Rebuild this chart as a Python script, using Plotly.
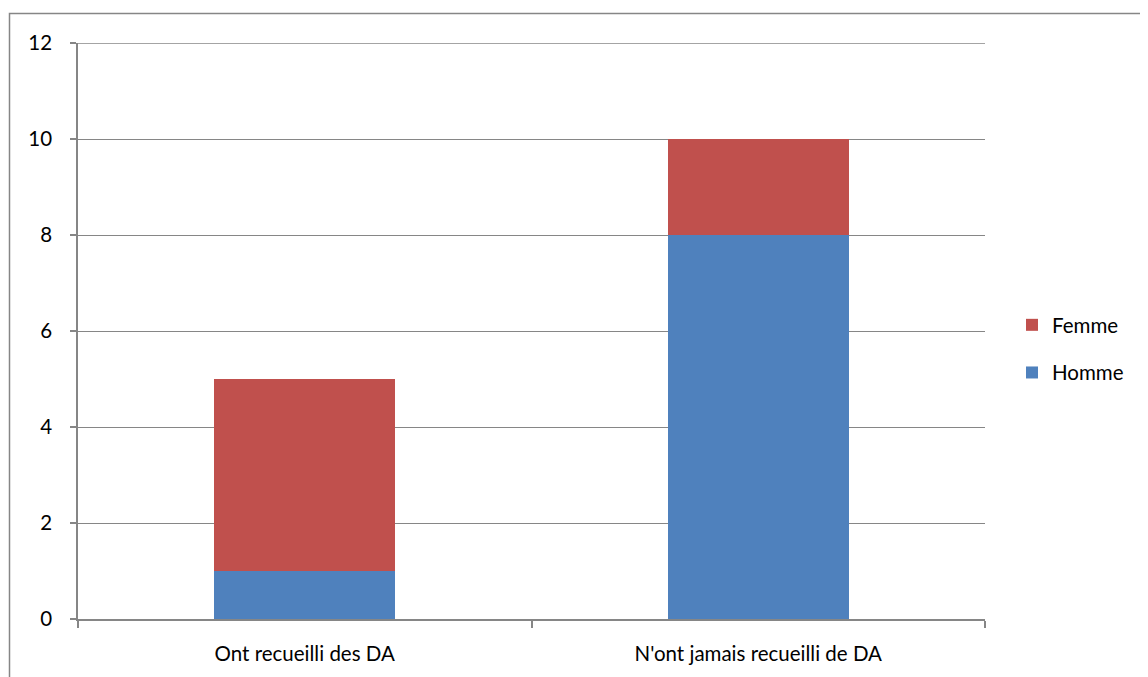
import plotly.graph_objects as go

categories = ["Ont recueilli des DA", "N'ont jamais recueilli de DA"]
homme = [1, 8]
femme = [4, 2]
y_ticks = [0, 2, 4, 6, 8, 10, 12]

# The page body has an 8px margin; work in window pixels and offset.
OFF = 8
W, H = 1148 - OFF, 677 - OFF
plot_left, plot_right, plot_top, plot_bottom = 78, 985, 43, 619
L = plot_left - OFF
T = plot_top - OFF
R = W - (plot_right - OFF)
B = H - (plot_bottom - OFF)
pw, ph = W - L - R, H - T - B

def px_x(px):
    return (px - plot_left) / pw

def px_y(py):
    return (plot_bottom - py) / ph

fig = go.Figure()
fig.add_trace(go.Bar(x=categories, y=homme, name="Homme", marker_color="#4F81BD",
                     marker_line_width=0, legendgroup="h", legendrank=2))
fig.add_trace(go.Bar(x=categories, y=femme, name="Femme", marker_color="#C0504D",
                     marker_line_width=0, legendgroup="f", legendrank=1))

fam = "Lato, Calibri, sans-serif"
font = dict(family=fam, size=20.5, color="#000000")

fig.update_layout(
    width=W, height=H,
    margin=dict(l=L, r=R, t=T, b=B),
    barmode="stack",
    bargap=0.6,
    paper_bgcolor="white",
    plot_bgcolor="white",
    font=font,
    showlegend=True,
    legend=dict(traceorder="grouped", x=px_x(1012), y=px_y(305),
                xanchor="left", yanchor="top", tracegroupgap=18,
                font=dict(family=fam, size=20.5, color="#000000")),
    xaxis=dict(
        showgrid=False, showline=True, linecolor="#868686", linewidth=1.5,
        ticks="outside", tickson="boundaries", ticklen=7, tickcolor="#868686", tickwidth=1.5,
        ticklabelstandoff=16,
    ),
    yaxis=dict(
        range=[0, 12], tickvals=y_ticks, showgrid=True, gridcolor="#868686", gridwidth=1.3,
        showline=True, linecolor="#868686", linewidth=1.5, zeroline=False,
        ticks="outside", ticklen=6, tickcolor="#868686", tickwidth=1.5,
        ticklabelstandoff=14,
    ),
    shapes=[
        dict(type="rect", xref="paper", yref="paper",
             x0=px_x(9.5), x1=px_x(1146.5), y0=px_y(690), y1=px_y(13.5),
             line=dict(color="#868686", width=1.5), fillcolor="rgba(0,0,0,0)",
             layer="below"),
        dict(type="line", xref="paper", yref="y", x0=0, x1=1, y0=12, y1=12,
             line=dict(color="#868686", width=1.3), layer="below"),
    ],
)

fig.write_html("out.html")
